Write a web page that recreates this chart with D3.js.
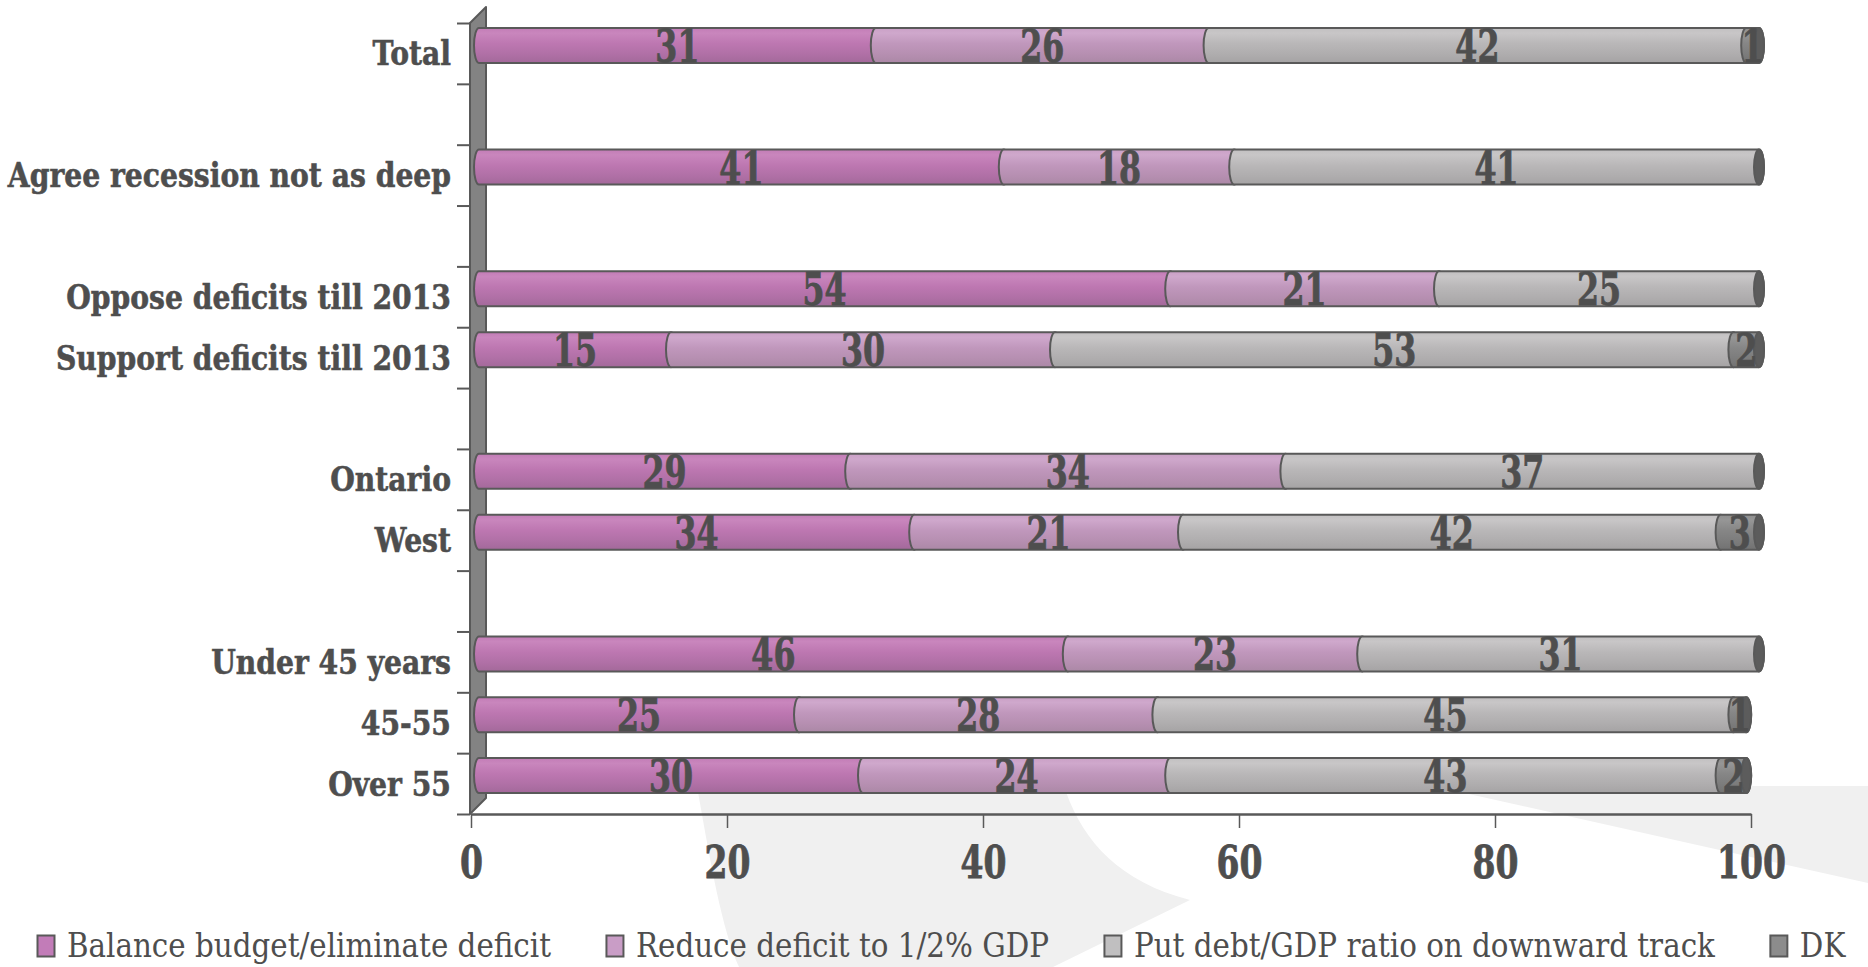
<!DOCTYPE html>
<html>
<head>
<meta charset="utf-8">
<script src="https://cdn.jsdelivr.net/npm/d3@7"></script>
<style>
  html, body { margin: 0; padding: 0; background: #ffffff; }
  svg { display: block; }
</style>
</head>
<body>
<svg id="chart" width="1868" height="967"></svg>
<script>
// ---- data ---------------------------------------------------------------
const categories = [
  "Total",
  "Agree recession not as deep",
  "Oppose deficits till 2013",
  "Support deficits till 2013",
  "Ontario",
  "West",
  "Under 45 years",
  "45-55",
  "Over 55"
];
// how many consecutive categories sit together before an empty row
const groupSizes = [1, 1, 2, 2, 3];

const seriesNames = [
  "Balance budget/eliminate deficit",
  "Reduce deficit to 1/2% GDP",
  "Put debt/GDP ratio on downward track",
  "DK"
];
const balanceBudget = [31, 41, 54, 15, 29, 34, 46, 25, 30];
const reduceDeficit = [26, 18, 21, 30, 34, 21, 23, 28, 24];
const putDebtDown   = [42, 41, 25, 53, 37, 42, 31, 45, 43];
const dontKnow      = [ 1,  0,  0,  2,  0,  3,  0,  1,  2];

const xTickValues = [0, 20, 40, 60, 80, 100];

// ---- styling ------------------------------------------------------------
const FONT = "'DejaVu Serif', serif";
const INK = "#4e4e4e";
const EDGE = "#595959";
const DEPTH = 16;            // 3-D depth of the plot box
const HALF = DEPTH / 2;      // bars sit half way into the box
const BAR_H = 35;
const CAP_RX = 5;

const seriesStops = [
  ["#c27cb6", "#c986bd", "#bd77b1", "#b070a6", "#a3699a"],
  ["#caa0c6", "#cfa8cc", "#c097bc", "#b68fb1", "#ab88a6"],
  ["#c2c0c1", "#c8c6c7", "#b9b7b8", "#afadae", "#a5a3a4"],
  ["#8e8e8e", "#969696", "#868686", "#7c7c7c", "#727272"]
];
const legendFill = ["#c27cb8", "#c99dc6", "#c0bfc0", "#8c8c8c"];

const svg = d3.select("#chart");
const defs = svg.append("defs");
seriesStops.forEach((stops, k) => {
  const g = defs.append("linearGradient")
    .attr("id", "grad" + k)
    .attr("x1", 0).attr("y1", 0).attr("x2", 0).attr("y2", 1);
  const offs = [0, 0.15, 0.45, 0.75, 1];
  stops.forEach((c, j) => g.append("stop").attr("offset", offs[j]).attr("stop-color", c));
});

// ---- background swoosh --------------------------------------------------
const swoosh = svg.append("g").attr("fill", "#f0f0f0");
swoosh.append("path")
  .attr("d", "M698,792 C710,860 722,930 739,967 L1053,967 L1190,900 C1120,882 1084,842 1066,792 Z");
swoosh.append("path")
  .attr("d", "M1433,786 L1868,786 L1868,883 Z");

// ---- scales -------------------------------------------------------------
const slots = [];
let ci = 0;
groupSizes.forEach((n, g) => {
  if (g > 0) slots.push(null);
  for (let k = 0; k < n; k++) slots.push(ci++);
});
const slotOf = [];
slots.forEach((c, s) => { if (c !== null) slotOf[c] = s; });

const x = d3.scaleLinear().domain([0, 100]).range([471, 1751]);
const y = d3.scaleBand().domain(d3.range(slots.length)).range([23, 814]);
const yEdge = d3.scaleLinear().domain([0, slots.length]).range([23, 814]);

// ---- left wall ----------------------------------------------------------
const wx = x(0) - 1;
svg.append("path")
  .attr("d", `M${wx},${yEdge(slots.length)} L${wx},${yEdge(0)} L${wx + DEPTH},${yEdge(0) - DEPTH} L${wx + DEPTH},${yEdge(slots.length) - DEPTH} Z`)
  .attr("fill", "#838383")
  .attr("stroke", EDGE)
  .attr("stroke-width", 2)
  .attr("stroke-linejoin", "round");

// ---- axes ---------------------------------------------------------------
const yAxisG = svg.append("g")
  .attr("transform", `translate(${wx},0)`)
  .call(d3.axisLeft(yEdge).tickValues(d3.range(slots.length + 1)).tickSize(13).tickFormat(""));
yAxisG.select(".domain").remove();
yAxisG.selectAll("line").attr("stroke", EDGE).attr("stroke-width", 2);

const xAxisG = svg.append("g")
  .attr("transform", `translate(0,${yEdge(slots.length)})`)
  .call(d3.axisBottom(x).tickValues(xTickValues).tickSize(14).tickSizeOuter(0));
xAxisG.select(".domain").attr("stroke", EDGE).attr("stroke-width", 2.5);
xAxisG.selectAll(".tick line").attr("stroke", EDGE).attr("stroke-width", 1.5);
xAxisG.selectAll(".tick text")
  .attr("y", 64).attr("dy", null)
  .attr("fill", INK)
  .attr("stroke", INK)
  .attr("stroke-width", 0.8)
  .attr("font-family", FONT)
  .attr("font-weight", "bold")
  .attr("font-size", 44)
  .attr("transform", "scale(0.75,1)");

// ---- bars ---------------------------------------------------------------
const rows = categories.map((c, i) => ({
  cat: c, i,
  s0: balanceBudget[i], s1: reduceDeficit[i], s2: putDebtDown[i], s3: dontKnow[i]
}));
const layers = d3.stack().keys(["s0", "s1", "s2", "s3"])(rows);

const xb = v => x(v) + HALF;
const yc = i => y(slotOf[i]) + y.bandwidth() / 2 - HALF;

function segmentPath(x0, x1, cy) {
  const t = cy - BAR_H / 2, b = cy + BAR_H / 2, ry = BAR_H / 2;
  return `M${x0},${t} L${x1},${t} A${CAP_RX},${ry} 0 0 1 ${x1},${b} L${x0},${b} A${CAP_RX},${ry} 0 0 1 ${x0},${t} Z`;
}

const barsG = svg.append("g");
layers.forEach((layer, k) => {
  barsG.append("g")
    .selectAll("path")
    .data(layer.filter(d => d[1] - d[0] > 0))
    .join("path")
    .attr("d", d => segmentPath(xb(d[0]), xb(d[1]), yc(d.data.i)))
    .attr("fill", `url(#grad${k})`)
    .attr("stroke", EDGE)
    .attr("stroke-width", 2);
});

// dark end face of each cylinder
const totals = rows.map(r => r.s0 + r.s1 + r.s2 + r.s3);
barsG.append("g")
  .selectAll("ellipse")
  .data(rows)
  .join("ellipse")
  .attr("cx", d => xb(totals[d.i]))
  .attr("cy", d => yc(d.i))
  .attr("rx", CAP_RX)
  .attr("ry", BAR_H / 2)
  .attr("fill", "#5c5c5c")
  .attr("stroke", EDGE)
  .attr("stroke-width", 2);

// value labels
const labelsG = svg.append("g")
  .attr("fill", INK)
  .attr("stroke", INK)
  .attr("stroke-width", 0.8)
  .attr("font-family", FONT)
  .attr("font-weight", "bold")
  .attr("font-size", 44)
  .attr("text-anchor", "middle");
layers.forEach(layer => {
  labelsG.append("g")
    .selectAll("text")
    .data(layer.filter(d => d[1] - d[0] > 0))
    .join("text")
    .attr("transform", d => `translate(${xb((d[0] + d[1]) / 2)},${yc(d.data.i) + 16.5}) scale(0.72,1)`)
    .text(d => d[1] - d[0]);
});

// ---- category labels ------------------------------------------------------
svg.append("g")
  .attr("fill", INK)
  .attr("stroke", INK)
  .attr("stroke-width", 0.6)
  .attr("font-family", FONT)
  .attr("font-weight", "bold")
  .attr("font-size", 33)
  .attr("text-anchor", "end")
  .selectAll("text")
  .data(categories)
  .join("text")
  .attr("transform", (d, i) => `translate(451,${y(slotOf[i]) + y.bandwidth() / 2 + 12}) scale(0.855,1)`)
  .text(d => d);

// ---- legend ---------------------------------------------------------------
const LEG_SX = 0.89;
const legendG = svg.append("g").attr("transform", "translate(37,935)");
let lx = 0;
seriesNames.forEach((name, k) => {
  const item = legendG.append("g").attr("transform", `translate(${lx},0)`);
  item.append("rect")
    .attr("x", 0.5).attr("y", 0.5)
    .attr("width", 17).attr("height", 21)
    .attr("fill", legendFill[k])
    .attr("stroke", EDGE)
    .attr("stroke-width", 2);
  const t = item.append("text")
    .attr("transform", `translate(30,22) scale(${LEG_SX},1)`)
    .attr("fill", INK)
    .attr("font-family", FONT)
    .attr("font-size", 33)
    .text(name);
  const w = t.node().getComputedTextLength() * LEG_SX;
  lx += 30 + w + 55;
});
</script>
</body>
</html>
